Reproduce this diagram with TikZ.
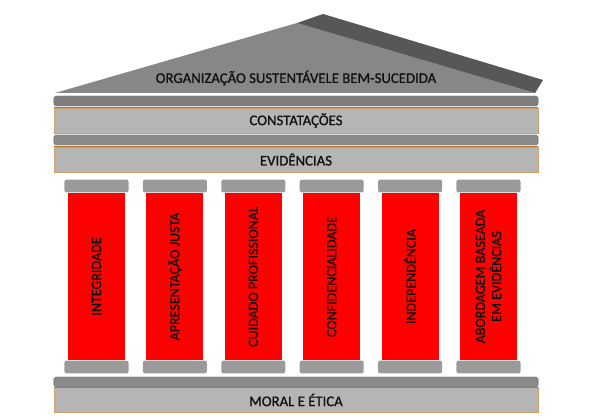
\documentclass[tikz,border=0pt]{standalone}
\usepackage{fontspec}
\setmainfont{Carlito}[FakeBold=0.8]
\usepackage{xcolor}
\usetikzlibrary{positioning}

\definecolor{roofgray}{HTML}{878787}
\definecolor{roofdark}{HTML}{575757}
\definecolor{beamgray}{HTML}{8A8A8A}
\definecolor{bandgray}{HTML}{B5B5B5}
\definecolor{bandedge}{HTML}{B8782F}
\definecolor{capgray}{HTML}{9A9A9A}
\definecolor{pillarred}{HTML}{FF0000}
\definecolor{inkblack}{HTML}{101010}

\begin{document}
\begin{tikzpicture}[x=0.025cm, y=-0.025cm,
    band/.style={rectangle, draw=bandedge!70, line width=0.4pt, fill=bandgray, minimum width=12.1cm, minimum height=0.625cm, inner sep=0pt, font=\fontsize{10.5}{12}\selectfont, text=inkblack},
    beam/.style={rectangle, rounded corners=1.2pt, fill=beamgray, draw=gray!80!black, line width=0.3pt, minimum width=12.1cm, minimum height=0.25cm, inner sep=0pt},
    capbox/.style={rectangle, rounded corners=1.5pt, fill=capgray, minimum width=1.6cm, minimum height=0.32cm, inner sep=0pt},
    pillar/.style={rectangle, fill=pillarred, minimum width=4.175cm, minimum height=1.425cm, rotate=90, align=center, inner sep=0pt, font=\fontsize{10}{11.5}\selectfont, text=inkblack}
]
\useasboundingbox (0,0) rectangle (600,420);

% roof
\fill[roofgray] (55,93) -- (297,23) -- (535,93) -- cycle;
\fill[roofdark] (297,23) -- (323,14) -- (543,80) -- (535,93) -- cycle;
\node[font=\fontsize{10.5}{12}\selectfont, text=inkblack] (roof) at (296,78) {ORGANIZAÇÃO SUSTENTÁVELE BEM-SUCEDIDA};

% entablature
\node[beam, fill=beamgray!92!black] (beamtop) at (296,101) {};
\node[band] (findings) at (296,120.5) {CONSTATAÇÕES};
\draw[bandedge, line width=0.5pt] (findings.north west) -- (findings.north east);
\node[beam] (beammid) at (296,140) {};
\node[band] (evidence) at (296,159.5) {EVIDÊNCIAS};
\draw[bandedge, line width=0.5pt] (evidence.north west) -- (evidence.north east);

% pillars
\foreach \lbl [count=\i] in {INTEGRIDADE, APRESENTAÇÃO JUSTA, CUIDADO PROFISSIONAL, CONFIDENCIALIDADE, INDEPENDÊNCIA, {ABORDAGEM BASEADA\\EM EVIDÊNCIAS}} {
  \pgfmathsetmacro\px{96.5+78.4*(\i-1)}
  \node[capbox] (top\i) at (\px,186) {};
  \node[pillar] (col\i) at (\px,276.5) {\lbl};
  \node[capbox] (base\i) at (\px,367) {};
}

% base
\node[beam] (beambot) at (296,382) {};
\node[band] (ethics) at (296,400) {MORAL E ÉTICA};
\draw[bandedge, line width=0.5pt] (ethics.north west) -- (ethics.north east);
\end{tikzpicture}
\end{document}
